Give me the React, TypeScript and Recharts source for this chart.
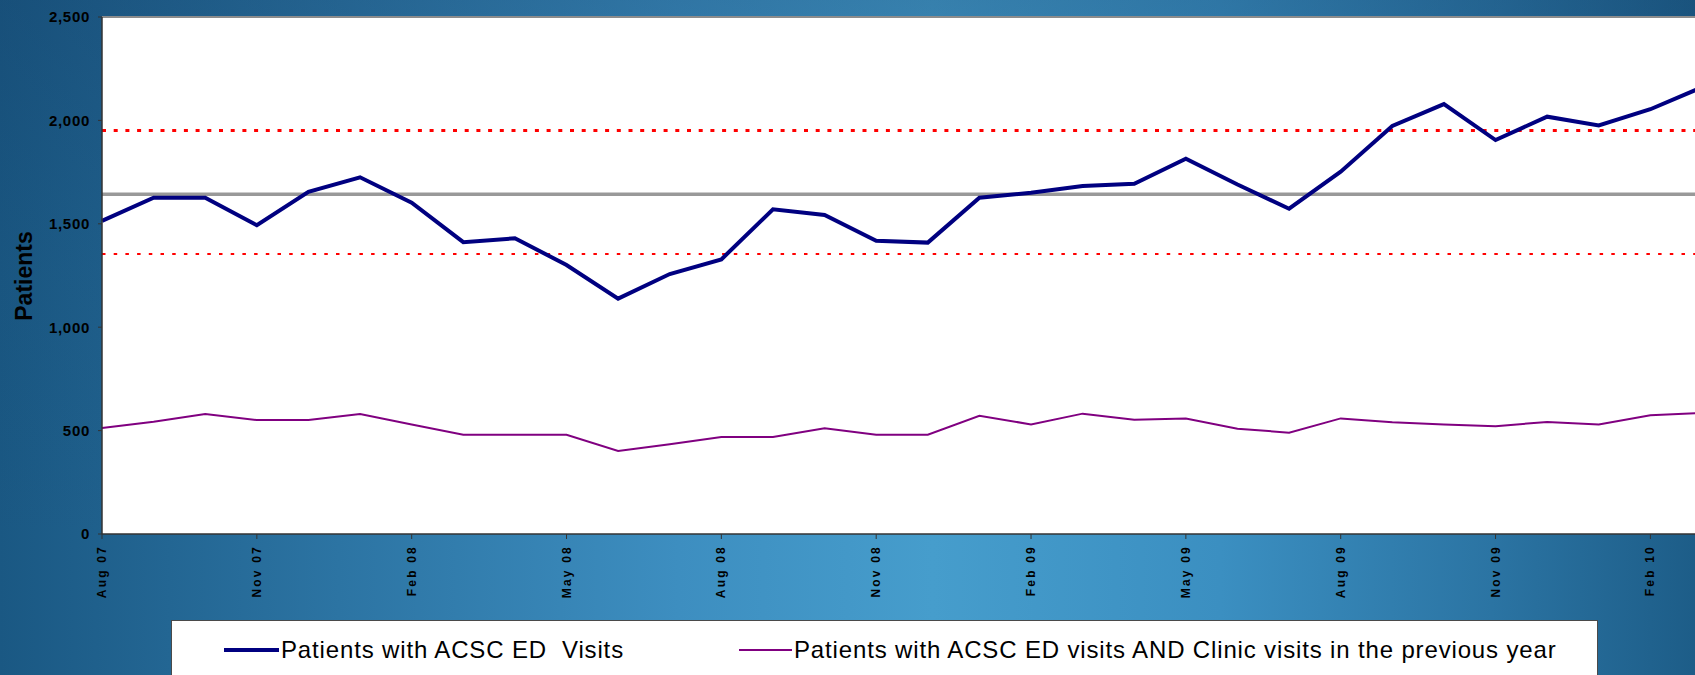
import { LineChart, Line, XAxis, YAxis, CartesianGrid, ReferenceLine, Legend, Label } from 'recharts';

const FONT = '"Liberation Sans", Arial, sans-serif';

const months = [
  'Aug 07', 'Sep 07', 'Oct 07', 'Nov 07', 'Dec 07', 'Jan 08', 'Feb 08', 'Mar 08',
  'Apr 08', 'May 08', 'Jun 08', 'Jul 08', 'Aug 08', 'Sep 08', 'Oct 08', 'Nov 08',
  'Dec 08', 'Jan 09', 'Feb 09', 'Mar 09', 'Apr 09', 'May 09', 'Jun 09', 'Jul 09',
  'Aug 09', 'Sep 09', 'Oct 09', 'Nov 09', 'Dec 09', 'Jan 10', 'Feb 10', 'Mar 10',
];

// patients with ACSC ED visits
const edVisits = [
  1514, 1626, 1626, 1493, 1655, 1725, 1602, 1411,
  1430, 1301, 1138, 1257, 1328, 1570, 1543, 1418,
  1409, 1626, 1650, 1683, 1694, 1815, 1690, 1573,
  1752, 1973, 2079, 1905, 2018, 1976, 2054, 2160,
];

// ...of those, also seen at a clinic in the previous year
const edAndClinic = [
  513, 543, 580, 551, 551, 580, 530, 480,
  480, 480, 401, 434, 469, 469, 511, 480,
  480, 572, 530, 582, 553, 559, 509, 490,
  559, 540, 530, 521, 542, 530, 574, 585,
];

const seriesNames = [
  'Patients with ACSC ED  Visits',
  'Patients with ACSC ED visits AND Clinic visits in the previous year',
];

const yTicks = [0, 500, 1000, 1500, 2000, 2500];

// control chart lines
const centreLine = 1643;
const upperLimit = 1951;
const lowerLimit = 1354;

const data = months.map((m, i) => ({ month: m, ed: edVisits[i], clinic: edAndClinic[i] }));

function MonthTick({ x, y, payload }: any) {
  return (
    <g transform={`translate(${x},${y})`}>
      <text
        transform="rotate(-90)"
        x={-4}
        y={4}
        textAnchor="end"
        fontSize={12}
        fontWeight="bold"
        letterSpacing={2.2}
        fill="#000"
        fontFamily={FONT}
      >
        {payload.value}
      </text>
    </g>
  );
}

const itemLeft = [52, 567];
const itemLine = [{ w: 55, h: 4 }, { w: 53, h: 2 }];

function LegendBox({ payload }: any) {
  return (
    <div
      style={{
        position: 'relative',
        width: 1427,
        height: 70,
        background: '#fff',
        border: '1px solid #4a4a4a',
        boxSizing: 'border-box',
        fontFamily: FONT,
      }}
    >
      {(payload || []).map((p: any, i: number) => (
        <div
          key={i}
          style={{ position: 'absolute', left: itemLeft[i], top: 15, height: 28, display: 'flex', alignItems: 'center' }}
        >
          <span style={{ display: 'inline-block', width: itemLine[i].w, height: itemLine[i].h, background: p.color, marginRight: 2 }} />
          <span style={{ fontSize: 24, letterSpacing: 0.85, color: '#000', whiteSpace: 'pre', lineHeight: '28px' }}>{p.value}</span>
        </div>
      ))}
    </div>
  );
}

export default function App() {
  return (
    <div
      style={{
        position: 'fixed',
        left: 0,
        top: 0,
        width: 1695,
        height: 675,
        overflow: 'hidden',
        background:
          'linear-gradient(to bottom, rgba(18,60,100,0.3) 0%, rgba(18,60,100,0.1) 40%, rgba(18,60,100,0) 80%), ' +
          'linear-gradient(to right, #1a5883 0%, #2c74a3 20%, #3d8ec0 40%, #469dcc 55%, #3b8fc1 72%, #2b74a3 88%, #1d5d88 100%)',
      }}
    >
      <LineChart width={1702} height={675} data={data} margin={{ top: 17, right: 0, bottom: 61, left: 0 }}>
        <CartesianGrid horizontal={false} vertical={false} fill="#fff" />
        <XAxis
          dataKey="month"
          interval={2}
          height={80}
          tickSize={5}
          tick={<MonthTick />}
          axisLine={{ stroke: '#333', strokeWidth: 1.5 }}
          tickLine={{ stroke: '#333' }}
        />
        <YAxis
          domain={[0, 2500]}
          ticks={yTicks}
          width={102}
          tickSize={4}
          tickMargin={8}
          tickFormatter={(v: number) => v.toLocaleString('en-US')}
          tick={{ fontSize: 15, fontWeight: 'bold', fill: '#000', fontFamily: FONT, letterSpacing: 0.7 }}
          axisLine={{ stroke: '#333', strokeWidth: 1.5 }}
          tickLine={{ stroke: '#333' }}
        >
          <Label
            content={() => (
              <text
                x={32}
                y={276}
                transform="rotate(-90, 32, 276)"
                textAnchor="middle"
                fontSize={23}
                fontWeight="bold"
                fill="#000"
                fontFamily={FONT}
              >
                Patients
              </text>
            )}
          />
        </YAxis>
        <ReferenceLine y={2500} stroke="#8c8c8c" strokeWidth={2} />
        <ReferenceLine y={upperLimit} stroke="#ff0000" strokeWidth={3} strokeDasharray="4 7.7" />
        <ReferenceLine y={lowerLimit} stroke="#ff0000" strokeWidth={2} strokeDasharray="3.5 8.2" />
        <ReferenceLine y={centreLine} stroke="#999999" strokeWidth={3.5} />
        <Line
          dataKey="ed"
          name={seriesNames[0]}
          stroke="#000080"
          strokeWidth={4}
          dot={false}
          type="linear"
          isAnimationActive={false}
        />
        <Line
          dataKey="clinic"
          name={seriesNames[1]}
          stroke="#800080"
          strokeWidth={2}
          dot={false}
          type="linear"
          isAnimationActive={false}
        />
        <Legend
          verticalAlign="middle"
          align="center"
          content={<LegendBox />}
          wrapperStyle={{ left: 171, top: 620, width: 1427, height: 70 }}
        />
      </LineChart>
    </div>
  );
}
